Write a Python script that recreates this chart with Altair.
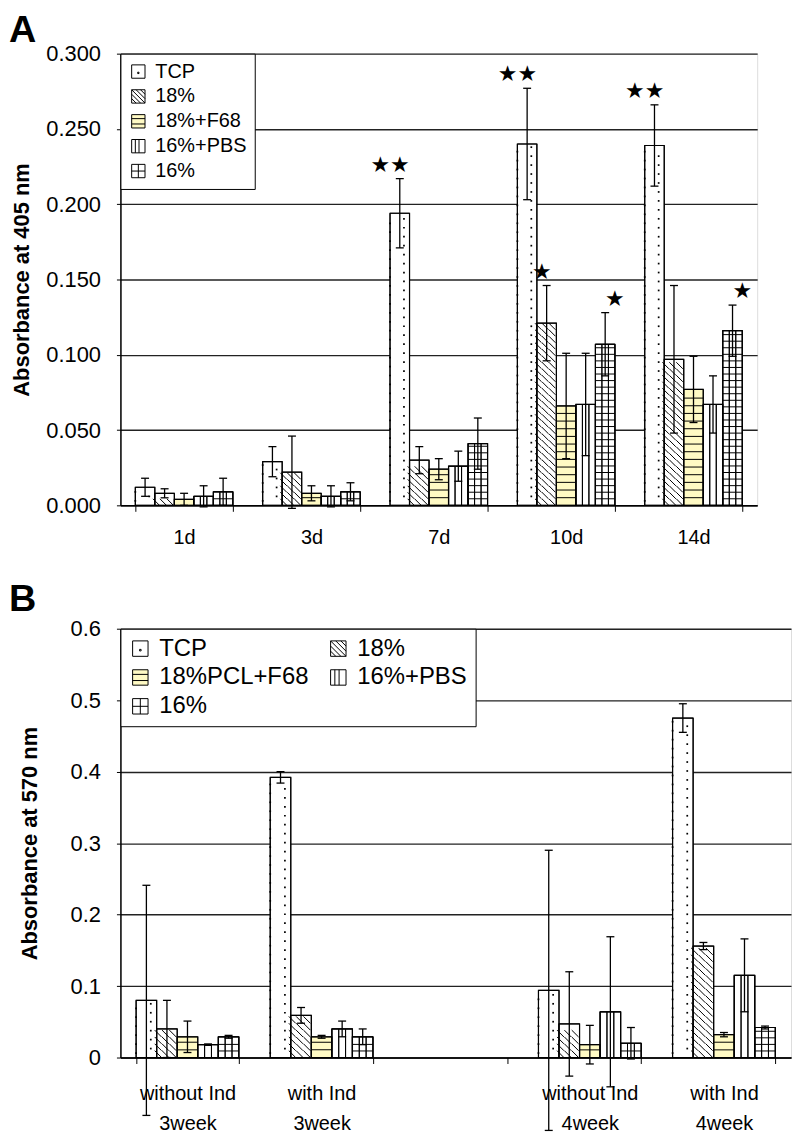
import altair as alt
import pandas as pd

# ---------------- Panel A data ----------------
days_A = ["1d", "3d", "7d", "10d", "14d"]
series_A = ["TCP", "18%", "18%+F68", "16%+PBS", "16%"]
tcp_A = [0.012, 0.029, 0.194, 0.240, 0.239]
tcp_err_A = [0.006, 0.010, 0.023, 0.037, 0.027]
p18_A = [0.008, 0.022, 0.030, 0.121, 0.097]
p18_err_A = [0.003, 0.024, 0.009, 0.025, 0.049]
f68_A = [0.004, 0.008, 0.024, 0.066, 0.077]
f68_err_A = [0.004, 0.005, 0.007, 0.035, 0.022]
pbs_A = [0.006, 0.006, 0.026, 0.067, 0.067]
pbs_err_A = [0.007, 0.007, 0.010, 0.034, 0.019]
p16_A = [0.009, 0.009, 0.041, 0.107, 0.116]
p16_err_A = [0.009, 0.006, 0.017, 0.021, 0.017]
stars_A_cat = ["7d", "10d", "14d", "10d", "10d", "14d"]
stars_A_series = ["TCP", "TCP", "TCP", "18%", "16%", "16%"]
stars_A_label = ["★★", "★★", "★★", "★", "★", "★"]

# ---------------- Panel B data ----------------
groups_B = ["without Ind|3week", "with Ind|3week", " ", "without Ind|4week", "with Ind|4week"]
data_groups_B = ["without Ind|3week", "with Ind|3week", "without Ind|4week", "with Ind|4week"]
series_B = ["TCP", "18%", "18%PCL+F68", "16%+PBS", "16%"]
tcp_B = [0.080, 0.392, 0.094, 0.475]
tcp_err_B = [0.161, 0.008, 0.196, 0.020]
p18_B = [0.040, 0.059, 0.047, 0.156]
p18_err_B = [0.040, 0.011, 0.073, 0.005]
f68_B = [0.029, 0.029, 0.018, 0.032]
f68_err_B = [0.022, 0.002, 0.027, 0.003]
pbs_B = [0.018, 0.040, 0.064, 0.115]
pbs_err_B = [0.001, 0.011, 0.105, 0.051]
p16_B = [0.029, 0.029, 0.020, 0.042]
p16_err_B = [0.002, 0.011, 0.022, 0.002]

fill_colors = ["#ffffff", "#ffffff", "#fffac4", "#ffffff", "#ffffff"]
legend_paths = [
    "M-1,-1H1V1H-1Z M-0.1,0.1H0.1V0.3H-0.1Z",
    "M-1,-1H1V1H-1Z M-1,-0.33L0.33,1 M-1,0.33L-0.33,1 M-0.33,-1L1,0.33 M0.33,-1L1,-0.33 M-1,-1L1,1",
    "M-1,-1H1V1H-1Z M-1,-0.4H1 M-1,0.4H1",
    "M-1,-1H1V1H-1Z M-0.45,-1V1 M0.1,-1V1",
    "M-1,-1H1V1H-1Z M0,-1V1 M-1,0H1",
]

FONT = "Liberation Sans, Arial, Helvetica, sans-serif"


def make_df(cats, series, means, errs):
    rows = []
    for s, m, e in zip(series, means, errs):
        for c, v, er in zip(cats, m, e):
            rows.append(dict(cat=c, series=s, value=v, err=er, lo=v - er, hi=v + er))
    return pd.DataFrame(rows)


def panel(df, stars_df, cats, series, legend_order, ymax, ystep, yfmt, ytitle, width, height,
          letter, title_offset, xlab_size, xlab_pad, xlab_lh, ytitle_pad, legend):
    pxu = height / ymax
    pad = 0.234
    bw = width / len(cats) * (1 - pad)
    sbw = bw / len(series)
    sub = sbw / 3
    subkeys = [f"{s}#{k}" for s in series for k in range(3)]
    nticks = int(round(ymax / ystep))
    yvals = [round(i * ystep, 4) for i in range(nticks + 1)]

    xax = alt.Axis(title=None, labelAngle=0, labelFont=FONT, labelFontSize=xlab_size,
                   labelColor="black", tickBand="extent", tickSize=6, tickColor="black",
                   domainColor="black", domainWidth=1.5, labelPadding=xlab_pad,
                   labelExpr="split(datum.label, '|')", labelLineHeight=xlab_lh,
                   labelBaseline="top")
    x = alt.X("cat:N", scale=alt.Scale(domain=cats, paddingInner=pad, paddingOuter=pad / 2), axis=xax)
    yscale = alt.Scale(domain=[0, ymax], nice=False, zero=True)
    yax = alt.Axis(title=ytitle, values=yvals, format=yfmt, grid=True, gridColor="#222",
                   gridWidth=1.4, tickSize=4, tickColor="black", domainColor="black",
                   domainWidth=1.5, labelFont=FONT, labelFontSize=22, labelColor="black",
                   labelPadding=16, titleFont=FONT, titleFontSize=22, titleFontWeight="bold",
                   titleColor="black", titlePadding=ytitle_pad)

    def Y(field):
        return alt.Y(f"{field}:Q", scale=yscale, axis=yax)

    xo = alt.XOffset("series:N", scale=alt.Scale(domain=series, paddingInner=0, paddingOuter=0))
    xos = alt.XOffset("sub:N", scale=alt.Scale(domain=subkeys, paddingInner=0, paddingOuter=0))
    idx = [series.index(s) for s in legend_order]
    fill_scale = alt.Scale(domain=legend_order, range=[fill_colors[i] for i in idx])
    shape_scale = alt.Scale(domain=legend_order, range=[legend_paths[i] for i in idx])

    base = alt.Chart(df)
    bars = base.mark_bar(stroke="black", strokeWidth=1).encode(
        x=x, xOffset=xo, y=Y("value"),
        fill=alt.Fill("series:N", scale=fill_scale, legend=legend))

    # dotted pattern (TCP)
    d_dot = 9.0 / pxu
    dots = base.transform_filter(alt.datum.series == series[0]).transform_calculate(
        col="[0, 2]").transform_flatten(["col"]).transform_calculate(
        sub="datum.series + '#' + datum.col",
        lev=f"sequence({d_dot * 0.5} + datum.col * {d_dot * 0.25}, datum.value - {d_dot * 0.3}, {d_dot})"
    ).transform_flatten(["lev"]).mark_square(size=3, color="black", opacity=1).encode(
        x=x, xOffset=xos, y=Y("lev"))

    # diagonal hatch (18%)
    ds = sub / pxu
    diag = base.transform_filter(alt.datum.series == series[1]).transform_calculate(
        col="[0, 1, 2]").transform_flatten(["col"]).transform_calculate(
        sub="datum.series + '#' + datum.col",
        lev=f"sequence({ds * 0.5}, datum.value - {ds * 0.45}, {ds})"
    ).transform_flatten(["lev"]).mark_point(
        shape="M-1,-1L1,1", size=sub * sub, filled=False, stroke="black",
        strokeWidth=1, opacity=1).encode(x=x, xOffset=xos, y=Y("lev"))

    def hlines(sname, step_px):
        st = step_px / pxu
        return base.transform_filter(alt.datum.series == sname).transform_calculate(
            lev=f"sequence({st}, datum.value - {st * 0.3}, {st})"
        ).transform_flatten(["lev"]).mark_tick(
            size=sbw, thickness=1, color="black", opacity=1).encode(
            x=x, xOffset=xo, y=Y("lev"))

    h_f68 = hlines(series[2], 7.7)
    h_16 = hlines(series[4], 6.6)

    vbars = base.transform_filter(
        alt.FieldOneOfPredicate(field="series", oneOf=[series[3], series[4]])
    ).transform_calculate(col="[0, 1, 2]").transform_flatten(["col"]).transform_calculate(
        sub="datum.series + '#' + datum.col").mark_bar(
        fillOpacity=0, stroke="black", strokeWidth=1).encode(x=x, xOffset=xos, y=Y("value"))

    outline = base.mark_bar(fillOpacity=0, stroke="black", strokeWidth=1.2).encode(
        x=x, xOffset=xo, y=Y("value"))

    err_rule = base.mark_rule(color="black", strokeWidth=1.3).encode(
        x=x, xOffset=xo, y=Y("lo"), y2=alt.Y2("hi:Q"))
    cap_hi = base.mark_tick(size=8, thickness=1.3, color="black", opacity=1).encode(
        x=x, xOffset=xo, y=Y("hi"))
    cap_lo = base.mark_tick(size=8, thickness=1.3, color="black", opacity=1).encode(
        x=x, xOffset=xo, y=Y("lo"))

    layers = [bars, dots, diag, h_f68, h_16, vbars, outline, err_rule, cap_hi, cap_lo]
    if stars_df is not None:
        stars = alt.Chart(stars_df).mark_text(
            font="DejaVu Sans", fontSize=22, baseline="alphabetic", dy=-7, color="black"
        ).encode(x=x, xOffset=xo, y=Y("hi"), text="label:N")
        layers.append(stars)

    legend_pts = base.transform_filter("false").mark_point(
        filled=True, opacity=1, stroke="black", strokeWidth=1).encode(
        x=x, y=Y("value"),
        shape=alt.Shape("series:N", scale=shape_scale, legend=legend),
        fill=alt.Fill("series:N", scale=fill_scale, legend=legend))
    layers.append(legend_pts)

    return alt.layer(*layers).resolve_scale(xOffset="independent").properties(
        width=width, height=height,
        title=alt.TitleParams(letter, anchor="start", frame="group", dx=-112,
                              offset=title_offset, fontSize=38, font=FONT,
                              fontWeight="bold", color="black", baseline="top"))


df_A = make_df(days_A, series_A, [tcp_A, p18_A, f68_A, pbs_A, p16_A],
               [tcp_err_A, p18_err_A, f68_err_A, pbs_err_A, p16_err_A])
stars_A = pd.DataFrame(dict(cat=stars_A_cat, series=stars_A_series, label=stars_A_label))
stars_A = stars_A.merge(df_A[["cat", "series", "hi"]], on=["cat", "series"], how="left")

df_B = make_df(data_groups_B, series_B, [tcp_B, p18_B, f68_B, pbs_B, p16_B],
               [tcp_err_B, p18_err_B, f68_err_B, pbs_err_B, p16_err_B])

legend_A = alt.Legend(title=None, orient="top-left", offset=0, fillColor="white",
                      strokeColor="black", padding=8, labelFont=FONT, labelFontSize=20,
                      labelColor="black", symbolSize=180, symbolStrokeColor="black",
                      symbolStrokeWidth=1, rowPadding=5, labelOffset=7, cornerRadius=0,
                      columns=1)
legend_B = alt.Legend(title=None, orient="top-left", offset=0, fillColor="white",
                      strokeColor="black", padding=8, labelFont=FONT, labelFontSize=24,
                      labelColor="black", symbolSize=240, symbolStrokeColor="black",
                      symbolStrokeWidth=1, rowPadding=5, labelOffset=7, cornerRadius=0,
                      columns=2, columnPadding=17)

legend_order_B = ["TCP", "18%PCL+F68", "16%", "18%", "16%+PBS"]

chart_A = panel(df_A, stars_A, days_A, series_A, series_A, 0.3, 0.05, ".3f",
                "Absorbance at 405 nm", 640, 454, "A", -7, 20, 16, 22, 12, legend_A)
chart_B = panel(df_B, None, groups_B, series_B, legend_order_B, 0.6, 0.1, ".1~f",
                "Absorbance at 570 nm", 674, 431, "B", -1, 20, 20, 30, 29, legend_B)

chart = alt.vconcat(chart_A, chart_B, spacing=32).resolve_scale(
    fill="independent", shape="independent"
).resolve_legend(fill="independent", shape="independent").properties(
    padding={"left": 0, "top": 0, "right": 0, "bottom": 0}
).configure_view(stroke=None).configure(font=FONT)

chart.save("out.html", embed_options={"renderer": "svg", "actions": False})
